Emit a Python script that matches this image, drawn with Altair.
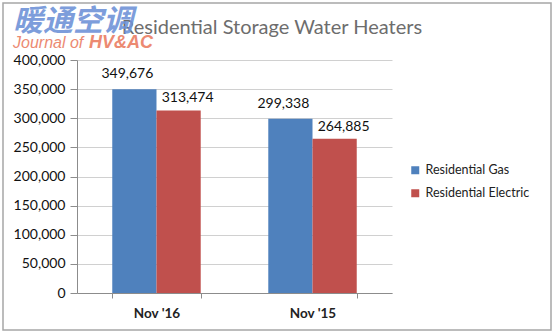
import altair as alt
import pandas as pd

categories = ["Nov '16", "Nov '15"]
series = ["Residential Gas", "Residential Electric"]
gas_values = [349676, 299338]
electric_values = [313474, 264885]
colors = ["#4F81BD", "#C0504D"]
title_text = "Residential Storage Water Heaters"
y_ticks = [0, 50000, 100000, 150000, 200000, 250000, 300000, 350000, 400000]

rows = []
for i, c in enumerate(categories):
    rows.append({"period": c, "series": series[0], "value": gas_values[i]})
    rows.append({"period": c, "series": series[1], "value": electric_values[i]})
df = pd.DataFrame(rows)

FONT = "Lato"

x_enc = alt.X("period:N", sort=categories, title=None,
              scale=alt.Scale(paddingInner=0.433, paddingOuter=0.226),
              axis=alt.Axis(labelAngle=0, labelFontSize=13.5, labelFontWeight="bold",
                            labelColor="#222", labelFont=FONT, tickBand="extent",
                            domainColor="#8c8c8c", tickColor="#8c8c8c", tickSize=5,
                            labelPadding=8))
xo_enc = alt.XOffset("series:N", sort=series, scale=alt.Scale(paddingInner=0, paddingOuter=0))
y_enc = alt.Y("value:Q", title=None,
              scale=alt.Scale(domain=[0, 400000], nice=False),
              axis=alt.Axis(values=y_ticks, format=",d", grid=True, gridColor="#d0d0d0",
                            gridWidth=1, labelFontSize=14,
                            labelColor="#111", labelFont=FONT, domainColor="#8c8c8c",
                            tickColor="#8c8c8c", tickSize=7, labelPadding=5))

base = alt.Chart(df)

bars = base.mark_bar().encode(
    x=x_enc, xOffset=xo_enc, y=y_enc,
    color=alt.Color("series:N", sort=series,
                    scale=alt.Scale(domain=series, range=colors),
                    legend=alt.Legend(title=None, orient="none", legendX=332, legendY=104,
                                      symbolType="square", symbolSize=64,
                                      labelFontSize=12.5, labelColor="#222", labelFont=FONT,
                                      rowPadding=10, symbolStrokeWidth=0))
)

labels_gas = base.transform_filter(alt.datum.series == series[0]).mark_text(
    dy=-15, dx=-7, fontSize=14, color="#111", font=FONT).encode(
    x=x_enc, xOffset=xo_enc, y=y_enc,
    text=alt.Text("value:Q", format=",d")
)
labels_el = base.transform_filter(alt.datum.series == series[1]).mark_text(
    dy=-12, dx=9, fontSize=14, color="#111", font=FONT).encode(
    x=x_enc, xOffset=xo_enc, y=y_enc,
    text=alt.Text("value:Q", format=",d")
)

title = alt.Chart(pd.DataFrame({"t": [title_text]})).mark_text(
    fontSize=20, color="#6d6d6d", font=FONT, align="center", baseline="middle"
).encode(x=alt.value(195), y=alt.value(-32), text="t:N")

wm1 = alt.Chart(pd.DataFrame({"t": ["暖通空调"]})).mark_text(
    fontSize=30, color="#6f93d8", font="Noto Sans CJK SC", fontWeight="bold",
    fontStyle="italic", align="left", baseline="middle", opacity=0.9
).encode(x=alt.value(-64), y=alt.value(-38), text="t:N")

wm2 = alt.Chart(pd.DataFrame({"t": ["Journal of"]})).mark_text(
    fontSize=16, color="#ec8a72", font="Liberation Sans", fontStyle="italic",
    align="left", baseline="middle"
).encode(x=alt.value(-64), y=alt.value(-17), text="t:N")

wm3 = alt.Chart(pd.DataFrame({"t": ["HV&AC"]})).mark_text(
    fontSize=18, color="#ec8a72", font="Liberation Sans", fontStyle="italic",
    fontWeight="bold", align="left", baseline="middle"
).encode(x=alt.value(12), y=alt.value(-17), text="t:N")

frame = alt.Chart(pd.DataFrame({"t": [0]})).mark_rect(
    fill=None, stroke="#a6a6a6", strokeWidth=1.5
).encode(x=alt.value(-74), x2=alt.value(474), y=alt.value(-57), y2=alt.value(270))

chart = alt.layer(frame, bars, labels_gas, labels_el, title, wm1, wm2, wm3).properties(
    width=315, height=233,
    autosize=alt.AutoSizeParams(type="none"),
    padding={"left": 77, "top": 60, "right": 163, "bottom": 43},
    background="white"
).configure_view(stroke=None)

chart.save("out.html", embed_options={"renderer": "svg", "actions": False})
